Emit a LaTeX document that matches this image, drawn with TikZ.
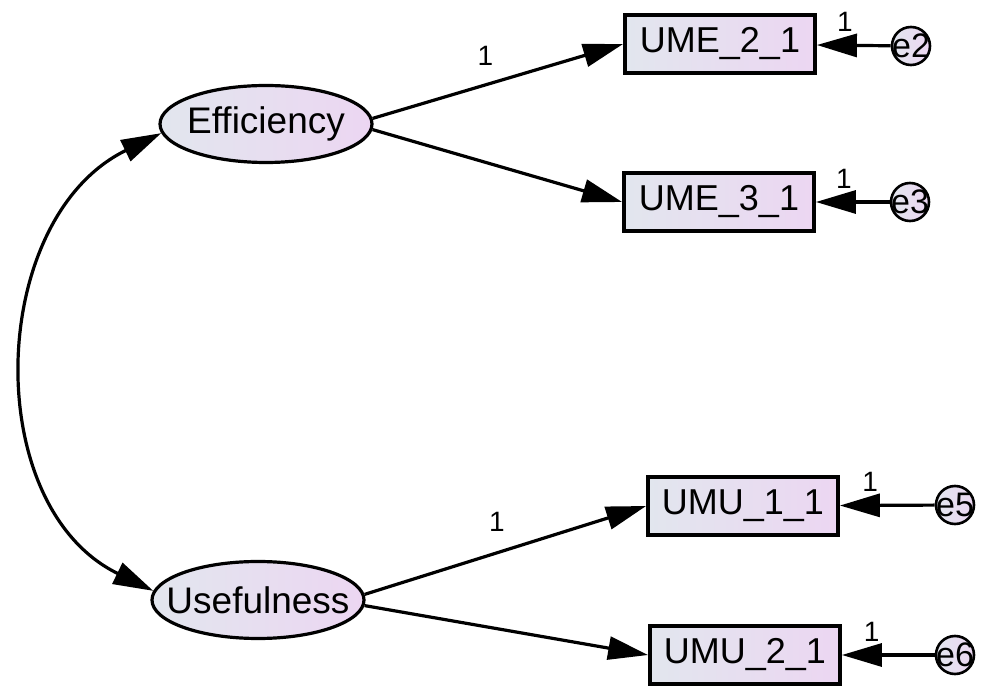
\documentclass[tikz,border=0pt]{standalone}
\usepackage{fontspec}
\setmainfont{Liberation Sans}
\usetikzlibrary{shapes,arrows.meta}
\definecolor{shadeL}{RGB}{226,230,238}
\definecolor{shadeR}{RGB}{236,214,242}
\tikzset{
  latent/.style={ellipse, draw, line width=1.6pt, left color=shadeL, right color=shadeR,
    minimum width=106pt, minimum height=38.5pt, inner sep=0pt, font=\fontsize{18.5}{20}\selectfont},
  observed/.style={rectangle, draw, line width=1.9pt, left color=shadeL, right color=shadeR,
    minimum width=95pt, minimum height=29pt, inner sep=0pt, font=\fontsize{18}{20}\selectfont},
  err/.style={circle, draw, line width=1.3pt, left color=shadeL, right color=shadeR,
    minimum size=19pt, inner sep=0pt, font=\fontsize{17}{19}\selectfont},
  arr/.style={-{Triangle[length=20pt,width=11.5pt]}, line width=1.6pt},
  lab/.style={font=\fontsize{14}{16}\selectfont, inner sep=1pt}
}

\begin{document}
\begin{tikzpicture}[x=0.5pt, y=0.5pt]
        \useasboundingbox (0, 0) rectangle (981, 686);
        \node[latent] (Eff) at (266, 562) {\makebox[0pt]{Efficiency}};
        \node[latent] (Use) at (258, 86) {\makebox[0pt]{Usefulness}};
        \node[observed] (UME21) at (720, 642) {UME\_2\_1};
        \node[observed] (UME31) at (719, 484) {UME\_3\_1};
        \node[observed] (UMU11) at (743, 180) {UMU\_1\_1};
        \node[observed] (UMU21) at (745, 31) {UMU\_2\_1};
        \node[err] (E2) at (911, 640) {\makebox[0pt]{e2}};
        \node[err] (E3) at (910, 484) {\makebox[0pt]{e3}};
        \node[err] (E5) at (955, 181) {\makebox[0pt]{e5}};
        \node[err] (E6) at (955, 31) {\makebox[0pt]{e6}};
        \draw [arr] (Eff.3) -- node [lab, above=8pt, pos=0.45] {1} (UME21.west);
        \draw [arr] (Eff.-3) -- (UME31.west);
        \draw [arr] (Use.3) -- node [lab, above=9pt, pos=0.47] {1} (UMU11.west);
        \draw [arr] (Use.-3) -- (UMU21.west);
        \draw [arr] (E2) -- node [lab, above=5pt, pos=0.62] {1} (UME21);
        \draw [arr] (E3) -- node [lab, above=5pt, pos=0.62] {1} (UME31);
        \draw [arr] (E5) -- node [lab, above=5pt, pos=0.68] {1} (UMU11);
        \draw [arr] (E6) -- node [lab, above=5pt, pos=0.68] {1} (UMU21);
        \draw [arr, {Triangle[length=20pt,width=11.5pt]}-{Triangle[length=20pt,width=11.5pt]}]
              (Eff.185) to [out=206, in=154, looseness=1.08] (Use.175);
\end{tikzpicture}
\end{document}
